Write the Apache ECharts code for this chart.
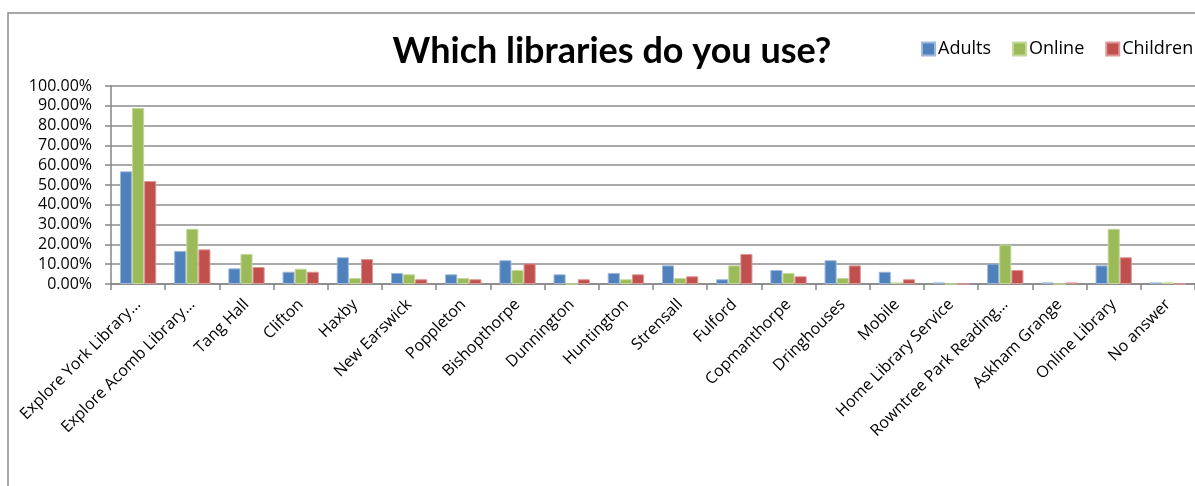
<!DOCTYPE html>
<html><head><meta charset="utf-8">
<script src="https://cdn.jsdelivr.net/npm/echarts@6/dist/echarts.min.js"></script>
<style>html,body{margin:0;padding:0;background:#fff;overflow:hidden}#c{width:1195px;height:486px}</style>
</head><body><div id="c"></div>
<script>
const categories = ["Explore York Library…","Explore Acomb Library…","Tang Hall","Clifton","Haxby","New Earswick","Poppleton","Bishopthorpe","Dunnington","Huntington","Strensall","Fulford","Copmanthorpe","Dringhouses","Mobile","Home Library Service","Rowntree Park Reading…","Askham Grange","Online Library","No answer"];
const adults   = [56.9,16.7,7.9,6.2,13.5,5.6,4.9,12.0,4.9,5.6,9.4,2.4,7.1,12.0,6.2,0.8,10.3,0.8,9.4,0.8];
const online   = [88.9,27.9,15.2,7.7,3.0,4.9,3.0,7.1,0,2.4,3.0,9.4,5.6,3.0,0.8,0,19.9,0,27.9,0.8];
const children = [52.0,17.5,8.6,6.2,12.6,2.4,2.4,10.4,2.4,4.9,3.9,15.2,3.9,9.4,2.4,0,7.1,0.8,13.5,0];
const seriesNames = ["Adults","Online","Children"];
const colors = ["#4F81BD","#9BBB59","#C0504D"];
const borders = ["#9DB8DA","#C4D89C","#DE9896"];
const font = "Open Sans";
const chart = echarts.init(document.getElementById('c'));
const data = [adults, online, children];
chart.setOption({
  animation:false,
  textStyle:{fontFamily:font},
  title:{text:"Which libraries do you use?",left:607,textAlign:'center',top:28,
    textStyle:{fontFamily:'Lato',fontWeight:'bold',fontSize:36,color:'#000'}},
  legend:{left:921,top:40,width:500,padding:0,itemWidth:13,itemHeight:13,itemGap:21,icon:'rect',
    textStyle:{fontFamily:font,fontSize:18,color:'#000',padding:[0,0,0,-2]}},
  graphic:[{type:'rect',shape:{x:8,y:13,width:1400,height:600},style:{fill:'none',stroke:'#8c8c8c',lineWidth:1.5},silent:true}],
  grid:{left:111,right:-4,top:86,bottom:202},
  xAxis:{type:'category',data:categories,
    axisLine:{lineStyle:{color:'#868686',width:1.5}},
    axisTick:{show:true,length:6,lineStyle:{color:'#868686',width:1.5}},
    axisLabel:{interval:0,rotate:45,fontSize:16,color:'#000',margin:18,fontFamily:font}},
  yAxis:{type:'value',min:0,max:100,interval:10,
    axisLine:{show:true,lineStyle:{color:'#868686',width:1.5}},
    axisTick:{show:true,length:6,lineStyle:{color:'#868686',width:1.5}},
    splitLine:{lineStyle:{color:'#8c8c8c',width:1.5}},
    axisLabel:{formatter:v=>v.toFixed(2)+'%',fontSize:16,color:'#000',margin:19,fontFamily:font}},
  series:seriesNames.map((n,i)=>({name:n,type:'bar',data:data[i],barGap:'0%',barCategoryGap:'33%',
    itemStyle:{color:colors[i],borderColor:borders[i],borderWidth:1}}))
});
</script></body></html>
